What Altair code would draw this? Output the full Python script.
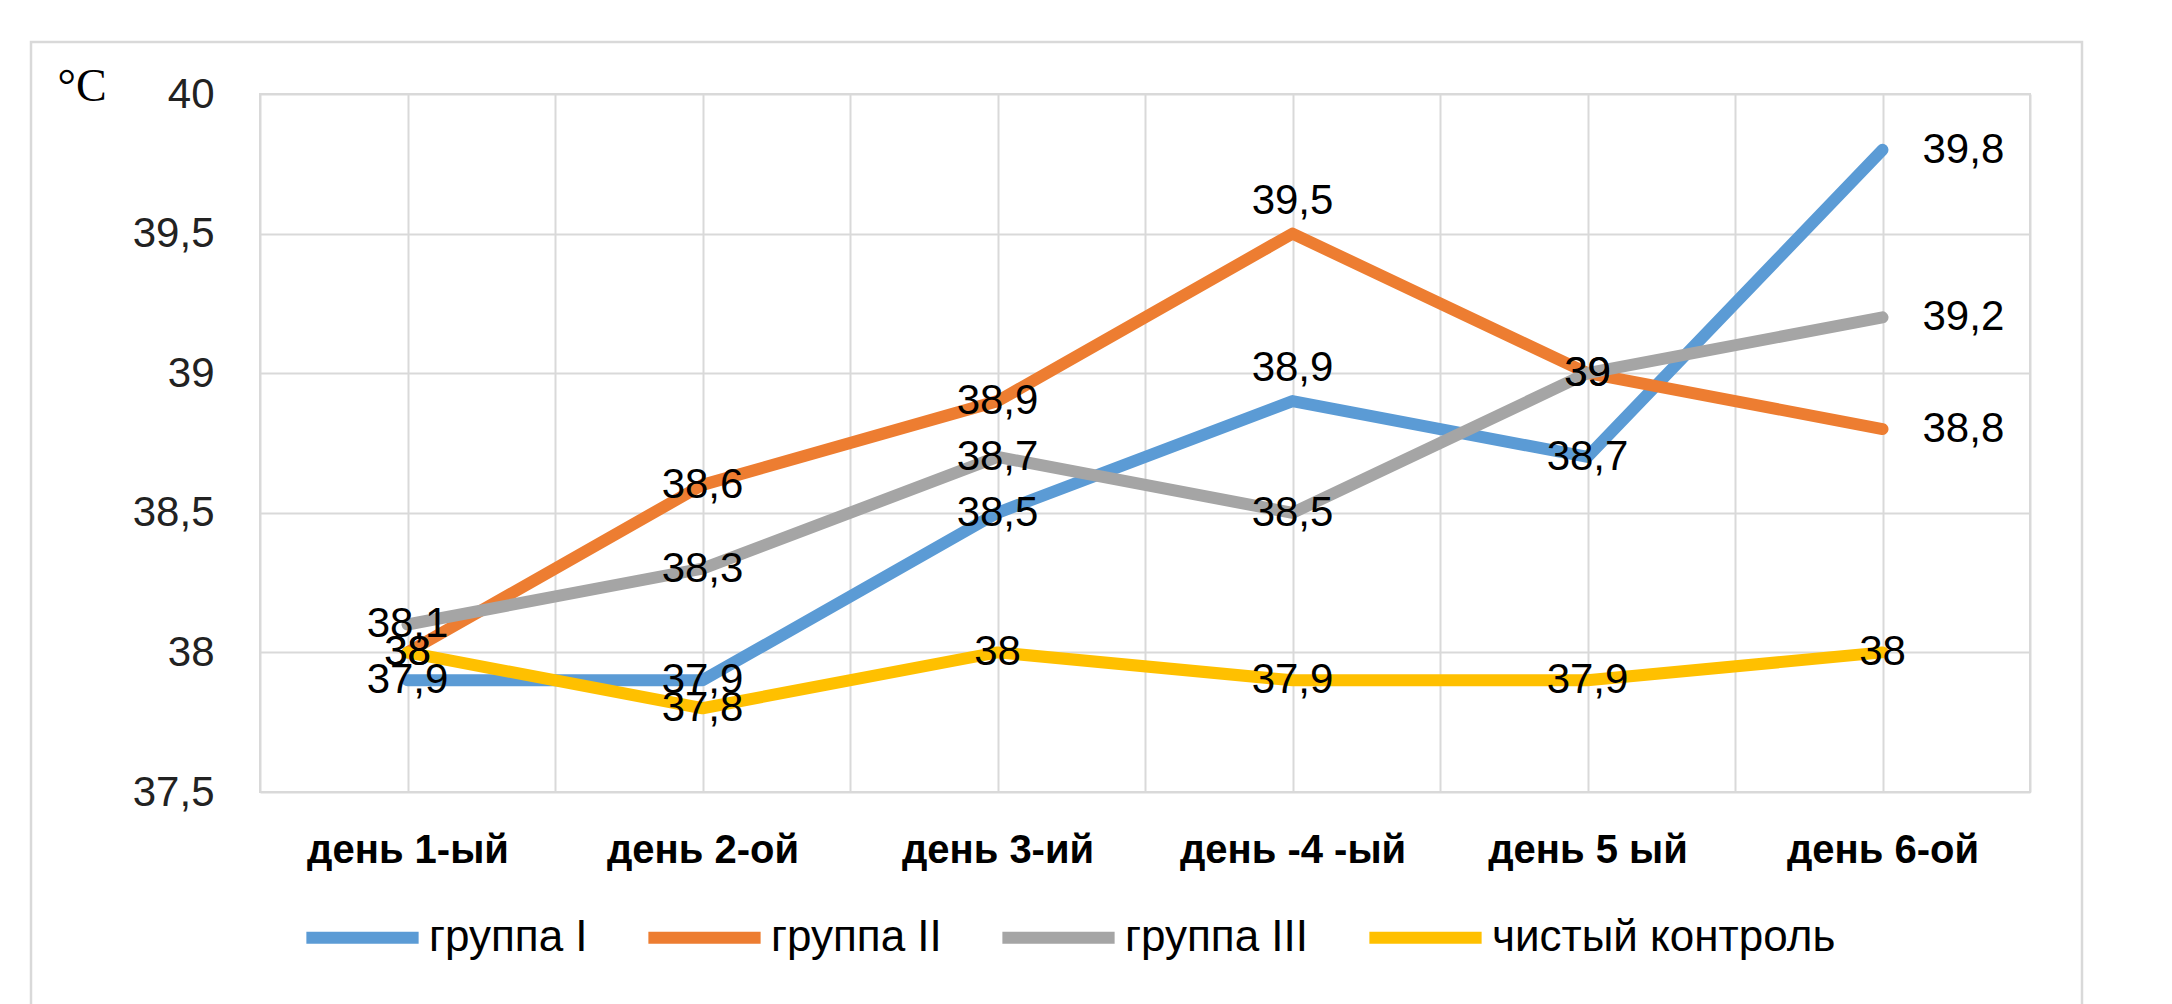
import altair as alt
import pandas as pd

days = ["день 1-ый", "день 2-ой", "день 3-ий", "день -4 -ый", "день 5 ый", "день 6-ой"]
series_names = ["группа I", "группа II", "группа III", "чистый контроль"]
group1 = [37.9, 37.9, 38.5, 38.9, 38.7, 39.8]
group2 = [38.0, 38.6, 38.9, 39.5, 39.0, 38.8]
group3 = [38.1, 38.3, 38.7, 38.5, 39.0, 39.2]
control = [38.0, 37.8, 38.0, 37.9, 37.9, 38.0]
colors = ["#5B9BD5", "#ED7D31", "#A5A5A5", "#FFC000"]
y_ticks = [37.5, 38.0, 38.5, 39.0, 39.5, 40.0]

rows = []
for s, vals in zip(series_names, [group1, group2, group3, control]):
    for i, (d, v) in enumerate(zip(days, vals)):
        rows.append({"series": s, "day": d, "idx": i, "value": v,
                     "label": f"{v:g}".replace(".", ",")})
df = pd.DataFrame(rows)

FONT = "Liberation Sans"
js_days = "[" + ",".join("'" + d + "'" for d in days) + "]"
x_grid = [i / 2 - 0.5 for i in range(2 * len(days) + 1)]

x_enc = alt.X("idx:Q",
              scale=alt.Scale(domain=[-0.5, len(days) - 0.5], nice=False, zero=False),
              axis=alt.Axis(values=x_grid, title=None, ticks=False, domain=False,
                            labelExpr=f"datum.value % 1 == 0 ? {js_days}[datum.value] : ''",
                            labelOverlap=False, labelFont=FONT, labelFontSize=40,
                            labelFontWeight="bold", labelColor="#000000", labelPadding=38,
                            labelBound=False, labelFlush=False, labelLimit=600))
y_enc = alt.Y("value:Q",
              scale=alt.Scale(domain=[37.5, 40], nice=False, zero=False),
              axis=alt.Axis(values=y_ticks, ticks=False, domain=False,
                            labelExpr="replace(toString(datum.value), '.', ',')",
                            labelFont=FONT, labelFontSize=42, labelColor="#222222",
                            labelPadding=46,
                            title="°C", titleAngle=0, titleX=-203, titleY=-30,
                            titleAlign="left", titleBaseline="top",
                            titleFont="Liberation Serif", titleFontSize=46,
                            titleFontWeight="normal", titleColor="#000000"))

base = alt.Chart(df)

lines = base.mark_line(strokeWidth=12, strokeCap="round", strokeJoin="round").encode(
    x=x_enc, y=y_enc,
    color=alt.Color("series:N",
                    scale=alt.Scale(domain=series_names, range=colors),
                    legend=alt.Legend(orient="none", legendX=40, legendY=781,
                                      direction="horizontal", title=None,
                                      symbolType="stroke", symbolSize=12600,
                                      symbolStrokeWidth=12, labelFont=FONT,
                                      labelFontSize=44, labelColor="#000000",
                                      labelOffset=4, columnPadding=36,
                                      labelLimit=600)),
    detail="series:N",
)

is_right = "datum.idx == 5 && datum.series != 'чистый контроль'"
is_above = "datum.idx == 3 && (datum.series == 'группа I' || datum.series == 'группа II')"

txt_kw = dict(font=FONT, fontSize=42, color="#000000")
center_labels = base.transform_filter(f"!({is_right}) && !({is_above})").mark_text(
    align="center", baseline="middle", **txt_kw).encode(x="idx:Q", y="value:Q", text="label:N")
right_labels = base.transform_filter(is_right).mark_text(
    align="left", baseline="middle", dx=40, **txt_kw).encode(x="idx:Q", y="value:Q", text="label:N")
above_labels = base.transform_filter(is_above).mark_text(
    align="center", baseline="middle", dy=-33, **txt_kw).encode(x="idx:Q", y="value:Q", text="label:N")

frame = alt.Chart(pd.DataFrame({"f": [0]})).mark_rect(
    fillOpacity=0, stroke="#d9d9d9", strokeWidth=2.5).encode(
    x=alt.value(-229), x2=alt.value(1822), y=alt.value(-52), y2=alt.value(1000))

chart = alt.layer(frame, lines, center_labels, right_labels, above_labels).properties(
    width=1770, height=698,
    autosize=alt.AutoSizeParams(type="none"),
    padding={"left": 260, "top": 94, "right": 142, "bottom": 212},
    background="#ffffff",
).configure_view(stroke="#d9d9d9", strokeWidth=2).configure_axis(
    gridColor="#d9d9d9", gridWidth=2
)

chart.save("out.html", embed_options={"renderer": "svg", "actions": False})
